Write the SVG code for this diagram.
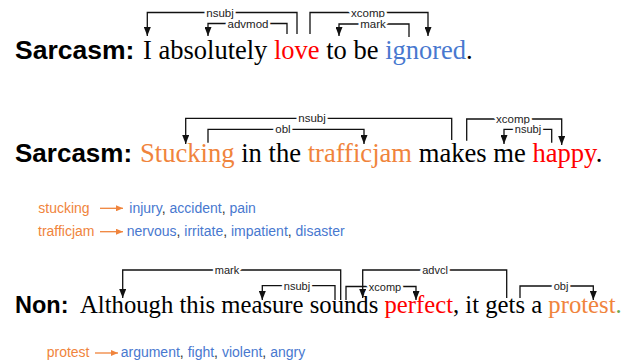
<svg xmlns="http://www.w3.org/2000/svg" width="636" height="362" viewBox="0 0 636 362">
<defs>
<marker id="ah" viewBox="0 0 9 7" refX="9" refY="3.5" markerWidth="9" markerHeight="7" markerUnits="userSpaceOnUse" orient="auto"><path d="M0,0 L9,3.5 L0,7 z" fill="#111"/></marker>
<marker id="oh" viewBox="0 0 7 6" refX="7" refY="3" markerWidth="7" markerHeight="6" markerUnits="userSpaceOnUse" orient="auto"><path d="M0,0 L7,3 L0,6 z" fill="#f0843c"/></marker>
</defs>
<style>
.lbl{font-family:"Liberation Sans",Arial,sans-serif;font-size:11.5px;fill:#222;text-anchor:middle;stroke:#fff;stroke-width:5px;paint-order:stroke}
.sm{font-size:11px}
.dep{fill:none;stroke:#111;stroke-width:1.3px;marker-end:url(#ah)}
.tag{font-family:"Liberation Sans",Arial,sans-serif;font-weight:bold;fill:#000}
.sen{font-family:"Liberation Serif","Times New Roman",serif;fill:#000}
.lst{font-family:"Liberation Sans",Arial,sans-serif;font-size:14px;fill:#333}
.or{fill:#f0843c}
.bl{fill:#4878cf}
.rd{fill:#ff0000}
.gr{fill:#6aa84f}
.oa{fill:none;stroke:#f0843c;stroke-width:1.3px;marker-end:url(#oh)}
</style>
<g id="connectors">
<path class="dep" d="M297,34 V12.5 H147.3 V36"/>
<path class="dep" d="M287,34 V23.5 H208 V36"/>
<path class="dep" d="M310,34 V12.5 H428 V36"/>
<path class="dep" d="M409,37 V24 H339 V36"/>
<path class="dep" d="M451.7,140 V118.3 H185.7 V144"/>
<path class="dep" d="M208,142.7 V129.3 H364 V144"/>
<path class="dep" d="M466.7,140.7 V119 H561.7 V145"/>
<path class="dep" d="M551.7,142.7 V129.3 H504 V144"/>
<path class="dep" d="M340.7,300 V270 H122.7 V298"/>
<path class="dep" d="M335,300 V285.7 H262.3 V300"/>
<path class="dep" d="M346,300 V286.5 H416 V300"/>
<path class="dep" d="M506.7,298 V270 H362.7 V298"/>
<path class="dep" d="M520,298 V286 H593.3 V300"/>
<path class="oa" d="M100,208.3 H123"/>
<path class="oa" d="M100,231.7 H123"/>
<path class="oa" d="M95,353 H118"/>
</g>
<g id="labels">
<text class="lbl" x="220" y="16.5">nsubj</text>
<text class="lbl" x="248" y="27.5">advmod</text>
<text class="lbl" x="368" y="16.5">xcomp</text>
<text class="lbl" x="373" y="28">mark</text>
<text class="lbl" x="312" y="122.3">nsubj</text>
<text class="lbl" x="283" y="133.3">obl</text>
<text class="lbl" x="513" y="123">xcomp</text>
<text class="lbl sm" x="528" y="133.3">nsubj</text>
<text class="lbl sm" x="227" y="274">mark</text>
<text class="lbl sm" x="297" y="289.7">nsubj</text>
<text class="lbl sm" x="385" y="290.5">xcomp</text>
<text class="lbl sm" x="435" y="274">advcl</text>
<text class="lbl sm" x="561" y="290">obj</text>
</g>
<g id="sentence1">
<text class="tag" x="15" y="59" font-size="26.5">Sarcasm:</text>
<text class="sen" x="143" y="59" font-size="26.5">I absolutely <tspan class="rd">love</tspan> to be <tspan class="bl">ignored</tspan>.</text>
</g>
<g id="sentence2">
<text class="tag" x="15" y="162" font-size="26">Sarcasm:</text>
<text class="sen" x="140" y="162" font-size="26.6"><tspan class="or">Stucking</tspan> in the <tspan class="or">trafficjam</tspan> makes me <tspan class="rd">happy</tspan>.</text>
</g>
<g id="list1">
<text class="lst" x="38.3" y="212.5"><tspan class="or">stucking</tspan></text>
<text class="lst" x="129.3" y="212.5"><tspan class="bl">injury</tspan>, <tspan class="bl">accident</tspan>, <tspan class="bl">pain</tspan></text>
<text class="lst" x="38" y="236"><tspan class="or">trafficjam</tspan></text>
<text class="lst" x="126.7" y="236"><tspan class="bl">nervous</tspan>, <tspan class="bl">irritate</tspan>, <tspan class="bl">impatient</tspan>, <tspan class="bl">disaster</tspan></text>
</g>
<g id="sentence3">
<text class="tag" x="15" y="313" font-size="23.5">Non:</text>
<text class="sen" x="80" y="313" font-size="24.7">Although this measure sounds <tspan class="rd">perfect</tspan>, it gets a <tspan class="or">protest</tspan><tspan class="gr">.</tspan></text>
</g>
<g id="list2">
<text class="lst" x="46.7" y="357.3"><tspan class="or">protest</tspan></text>
<text class="lst" x="120.7" y="357.3"><tspan class="bl">argument</tspan>, <tspan class="bl">fight</tspan>, <tspan class="bl">violent</tspan>, <tspan class="bl">angry</tspan></text>
</g>
</svg>
